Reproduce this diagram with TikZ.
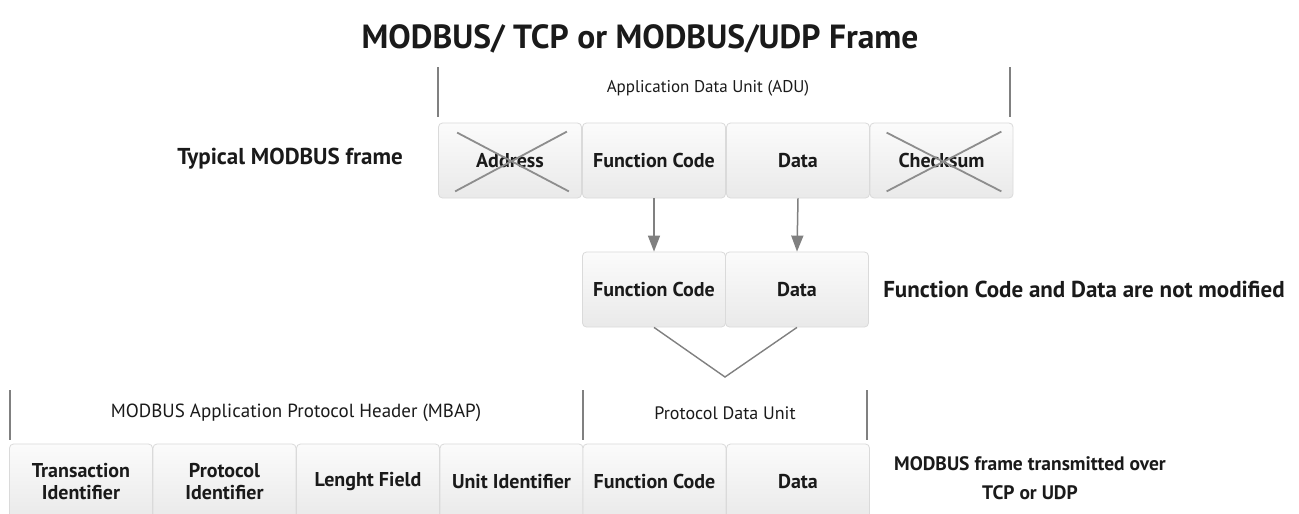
\documentclass[tikz,border=0pt]{standalone}
\usepackage{fontspec}
\setmainfont{PT Sans}
\usetikzlibrary{arrows.meta,calc,shadows}
\definecolor{ink}{HTML}{1A1A1A}
\definecolor{rule}{HTML}{808080}
\definecolor{edge}{HTML}{DADADA}
\tikzset{
  field/.style={draw=edge, line width=0.8pt, rounded corners=4pt,
    top color=white!97!gray, bottom color=gray!17,
    minimum width=143pt, minimum height=75pt, inner sep=0pt,
    align=center, font=\bfseries\fontsize{20}{22}\selectfont, text=ink},
  caption/.style={font=\fontsize{17}{20}\selectfont, text=ink},
  heading/.style={font=\bfseries\fontsize{23}{27}\selectfont, text=ink, align=center},
  bar/.style={draw=rule, line width=1.4pt},
  arr/.style={draw=rule, line width=1.5pt, -{Triangle[length=16pt,width=12pt]}},
  cross/.style={draw=rule!90, line width=1.8pt},
  vline/.style={draw=rule, line width=1.4pt}
}
\begin{document}
\begin{tikzpicture}[x=1pt,y=-1pt]
\useasboundingbox (0,0) rectangle (1299,514);
\clip (0,0) rectangle (1299,514);
\fill[white] (0,0) rectangle (1299,514);

% title and side captions
\node[heading, font=\bfseries\fontsize{33.5}{37}\selectfont] (title) at (640,39) {MODBUS/ TCP or MODBUS/UDP Frame};
\node[heading] (typ) at (290,159) {Typical MODBUS frame};
\node[heading] (notmod) at (1084,289) {Function Code and Data are not modified};
\node[heading, font=\bfseries\fontsize{19.5}{29}\selectfont] (tx) at (1030,478) {MODBUS frame transmitted over\\TCP or UDP};

% application data unit
\coordinate (aduL1) at (438,67); \coordinate (aduL2) at (438,117);
\coordinate (aduR1) at (1010,67); \coordinate (aduR2) at (1010,117);
\draw[bar] (aduL1) -- (aduL2);
\draw[bar] (aduR1) -- (aduR2);
\node[caption] (adu) at (708,88) {Application Data Unit (ADU)};

\node[field] (addr) at (510,160.5) {Address};
\node[field] (fcA)  at (654,160.5) {Function Code};
\node[field] (dA)   at (798,160.5) {Data};
\node[field] (chk)  at (941.5,160.5) {Checksum};

% struck-out fields
\draw[cross] ($(addr.south west)+(17,-7)$) -- ($(addr.north east)+(-15,9)$);
\draw[cross] ($(addr.north west)+(19,10)$) -- ($(addr.south east)+(-13,-7)$);
\draw[cross] ($(chk.south west)+(17,-7)$) -- ($(chk.north east)+(-12,9)$);
\draw[cross] ($(chk.north west)+(17,10)$) -- ($(chk.south east)+(-12,-7)$);

% protocol data unit kept as is
\node[field] (fcB) at (654,289.5) {Function Code};
\node[field] (dB)  at (797,289.5) {Data};
\draw[arr] (fcA.south) -- (fcB.north);
\draw[arr] (dA.south) -- (dB.north);

\coordinate (apex) at (725,377);
\draw[vline] (fcB.south) -- (apex) -- (dB.south);

% TCP/UDP frame
\coordinate (m1a) at (10,390); \coordinate (m1b) at (10,440);
\coordinate (m2a) at (583,390); \coordinate (m2b) at (583,440);
\coordinate (m3a) at (867,390); \coordinate (m3b) at (867,440);
\draw[bar] (m1a) -- (m1b);
\draw[bar] (m2a) -- (m2b);
\draw[bar] (m3a) -- (m3b);
\node[caption, font=\fontsize{19}{22}\selectfont] (mbap) at (296,413) {MODBUS Application Protocol Header (MBAP)};
\node[caption, font=\fontsize{18}{21}\selectfont] (pdu) at (725,413) {Protocol Data Unit};

\node[field] (tid) at (81,481.5) {Transaction\\Identifier};
\node[field] (pid) at (224.5,481.5) {Protocol\\Identifier};
\node[field] (len) at (368,481.5) {Lenght Field};
\node[field] (uid) at (511.5,481.5) {Unit Identifier};
\node[field] (fcC) at (654.5,481.5) {Function Code};
\node[field] (dC)  at (798,481.5) {Data};
\end{tikzpicture}
\end{document}
